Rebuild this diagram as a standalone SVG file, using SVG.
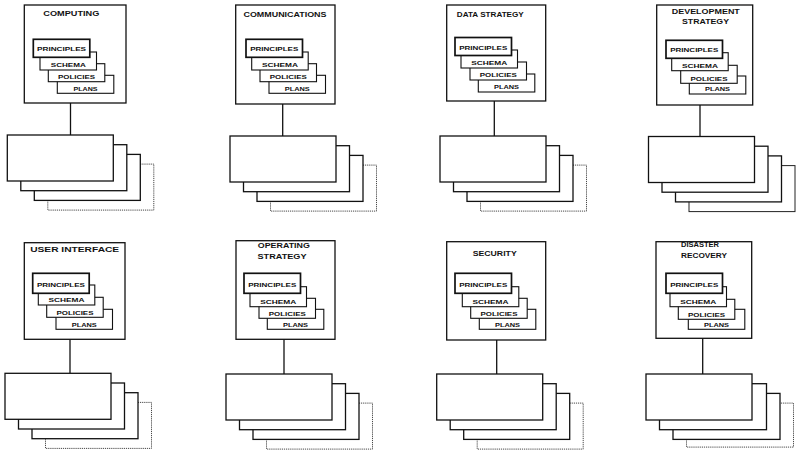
<svg xmlns="http://www.w3.org/2000/svg" width="797" height="450" viewBox="0 0 797 450">
<style>
.bg{fill:#fff}
.box{fill:#fff;stroke:#111;stroke-width:1.3}
.card{fill:#fff;stroke:#111;stroke-width:1.1}
.card1{fill:#fff;stroke:#111;stroke-width:1.7}
.sb{fill:#fff;stroke:#111;stroke-width:1.3}
.dot{fill:#fff;stroke:#333;stroke-width:0.9;stroke-dasharray:1.2 0.9}
.thin{fill:#fff;stroke:#222;stroke-width:1}
.ttl{font-family:"Liberation Sans",Arial,sans-serif;font-weight:bold;font-size:7.5px;text-anchor:middle;fill:#111}
.ct{font-family:"Liberation Sans",Arial,sans-serif;font-weight:bold;font-size:5px;text-anchor:middle;fill:#111}
.conn{stroke:#111;stroke-width:1.3;fill:none}
</style>
<rect class="bg" x="0" y="0" width="797" height="450"/>

<g id="connectors">
<line class="conn" x1="70.5" y1="103" x2="70.5" y2="135"/>
<line class="conn" x1="282.7" y1="104" x2="282.7" y2="136"/>
<line class="conn" x1="494.3" y1="101" x2="494.3" y2="136"/>
<line class="conn" x1="700" y1="105" x2="700" y2="136.5"/>
<line class="conn" x1="70" y1="339.3" x2="70" y2="373.3"/>
<line class="conn" x1="284" y1="339.3" x2="284" y2="374"/>
<line class="conn" x1="496.7" y1="340" x2="496.7" y2="374"/>
<line class="conn" x1="702.7" y1="338.3" x2="702.7" y2="374"/>
</g>

<!-- Row 1 -->
<g id="computing">
<rect class="box" x="24.3" y="5" width="101.7" height="98"/>
<text class="ttl" x="71.3" y="16" textLength="56" lengthAdjust="spacingAndGlyphs">COMPUTING</text>
<rect class="card" x="57.3" y="75.3" width="56.5" height="18"/>
<text class="ct" x="85.55" y="90.5" textLength="24" lengthAdjust="spacingAndGlyphs">PLANS</text>
<rect class="card" x="48.3" y="63.7" width="56.5" height="18"/>
<text class="ct" x="76.55" y="78.9" textLength="37" lengthAdjust="spacingAndGlyphs">POLICIES</text>
<rect class="card" x="40" y="52" width="56.5" height="18"/>
<text class="ct" x="68.25" y="67" textLength="35" lengthAdjust="spacingAndGlyphs">SCHEMA</text>
<rect class="card1" x="33.3" y="39.3" width="56.5" height="18"/>
<text class="ct" x="61.55" y="51.3" textLength="49" lengthAdjust="spacingAndGlyphs">PRINCIPLES</text>
</g>
<g id="computing-stack">
<rect class="dot" x="47.8" y="164.1" width="106" height="46"/>
<rect class="sb" x="34.3" y="154.4" width="106" height="46"/>
<rect class="sb" x="20.8" y="144.7" width="106" height="46"/>
<rect class="sb" x="7.3" y="135" width="106" height="46"/>
</g>

<g id="communications">
<rect class="box" x="235.7" y="5" width="99.3" height="99"/>
<text class="ttl" x="285" y="17" textLength="83" lengthAdjust="spacingAndGlyphs">COMMUNICATIONS</text>
<rect class="card" x="269" y="75.3" width="56.5" height="18"/>
<text class="ct" x="297.25" y="90.5" textLength="25" lengthAdjust="spacingAndGlyphs">PLANS</text>
<rect class="card" x="260" y="63.7" width="56.5" height="18"/>
<text class="ct" x="288.25" y="78.9" textLength="37" lengthAdjust="spacingAndGlyphs">POLICIES</text>
<rect class="card" x="251.7" y="52" width="56.5" height="18"/>
<text class="ct" x="279.95" y="67" textLength="36" lengthAdjust="spacingAndGlyphs">SCHEMA</text>
<rect class="card1" x="246" y="39.3" width="56.5" height="18"/>
<text class="ct" x="274.25" y="51.3" textLength="48" lengthAdjust="spacingAndGlyphs">PRINCIPLES</text>
</g>
<g id="communications-stack">
<rect class="dot" x="270.5" y="165.1" width="106" height="46"/>
<rect class="sb" x="257" y="155.4" width="106" height="46"/>
<rect class="sb" x="243.5" y="145.7" width="106" height="46"/>
<rect class="sb" x="230" y="136" width="106" height="46"/>
</g>

<g id="data-strategy">
<rect class="box" x="446.7" y="5" width="99" height="96"/>
<text class="ttl" x="490.3" y="17" textLength="67" lengthAdjust="spacingAndGlyphs">DATA STRATEGY</text>
<rect class="card" x="478.3" y="74" width="56.5" height="18"/>
<text class="ct" x="506.55" y="89" textLength="25" lengthAdjust="spacingAndGlyphs">PLANS</text>
<rect class="card" x="470" y="62" width="56.5" height="18"/>
<text class="ct" x="498.25" y="77" textLength="37" lengthAdjust="spacingAndGlyphs">POLICIES</text>
<rect class="card" x="461" y="50" width="56.5" height="18"/>
<text class="ct" x="489.25" y="65" textLength="36" lengthAdjust="spacingAndGlyphs">SCHEMA</text>
<rect class="card1" x="455" y="37.5" width="56.5" height="18"/>
<text class="ct" x="483.25" y="49.5" textLength="48" lengthAdjust="spacingAndGlyphs">PRINCIPLES</text>
</g>
<g id="data-strategy-stack">
<rect class="dot" x="480.5" y="165.1" width="106" height="46"/>
<rect class="sb" x="467" y="155.4" width="106" height="46"/>
<rect class="sb" x="453.5" y="145.7" width="106" height="46"/>
<rect class="sb" x="440" y="136" width="106" height="46"/>
</g>

<g id="development-strategy">
<rect class="box" x="656.7" y="5" width="96" height="100"/>
<text class="ttl" x="705.8" y="14" textLength="68" lengthAdjust="spacingAndGlyphs">DEVELOPMENT</text>
<text class="ttl" x="705.5" y="24" textLength="47" lengthAdjust="spacingAndGlyphs">STRATEGY</text>
<rect class="card" x="689.3" y="76" width="56.5" height="18"/>
<text class="ct" x="717.55" y="91.2" textLength="25" lengthAdjust="spacingAndGlyphs">PLANS</text>
<rect class="card" x="680.7" y="65.3" width="56.5" height="18"/>
<text class="ct" x="708.95" y="80.5" textLength="37" lengthAdjust="spacingAndGlyphs">POLICIES</text>
<rect class="card" x="671.7" y="52.7" width="56.5" height="18"/>
<text class="ct" x="699.95" y="67.9" textLength="36" lengthAdjust="spacingAndGlyphs">SCHEMA</text>
<rect class="card1" x="666" y="40.3" width="56.5" height="18"/>
<text class="ct" x="694.25" y="52.3" textLength="48" lengthAdjust="spacingAndGlyphs">PRINCIPLES</text>
</g>
<g id="development-strategy-stack">
<rect class="thin" x="689" y="165.6" width="106" height="46"/>
<rect class="sb" x="675.5" y="155.9" width="106" height="46"/>
<rect class="sb" x="662" y="146.2" width="106" height="46"/>
<rect class="sb" x="648.5" y="136.5" width="106" height="46"/>
</g>

<!-- Row 2 -->
<g id="user-interface">
<rect class="box" x="24.3" y="242.7" width="100.7" height="96.6"/>
<text class="ttl" x="74.7" y="251.7" textLength="89" lengthAdjust="spacingAndGlyphs">USER INTERFACE</text>
<rect class="card" x="56" y="309.3" width="56.5" height="20"/>
<text class="ct" x="84.25" y="326.5" textLength="25" lengthAdjust="spacingAndGlyphs">PLANS</text>
<rect class="card" x="46.7" y="297.3" width="56.5" height="20"/>
<text class="ct" x="74.95" y="314.5" textLength="37" lengthAdjust="spacingAndGlyphs">POLICIES</text>
<rect class="card" x="38.3" y="285" width="56.5" height="20"/>
<text class="ct" x="66.55" y="302.2" textLength="36" lengthAdjust="spacingAndGlyphs">SCHEMA</text>
<rect class="card1" x="32.7" y="273.3" width="56.5" height="20"/>
<text class="ct" x="60.95" y="287" textLength="48" lengthAdjust="spacingAndGlyphs">PRINCIPLES</text>
</g>
<g id="user-interface-stack">
<rect class="dot" x="45.5" y="402.4" width="106" height="46"/>
<rect class="sb" x="32" y="392.7" width="106" height="46"/>
<rect class="sb" x="18.5" y="383" width="106" height="46"/>
<rect class="sb" x="5" y="373.3" width="106" height="46"/>
</g>

<g id="operating-strategy">
<rect class="box" x="236" y="240.7" width="99" height="98.6"/>
<text class="ttl" x="283.8" y="248.3" textLength="52" lengthAdjust="spacingAndGlyphs">OPERATING</text>
<text class="ttl" x="282" y="259.3" textLength="49" lengthAdjust="spacingAndGlyphs">STRATEGY</text>
<rect class="card" x="267.3" y="309.3" width="56.5" height="20"/>
<text class="ct" x="295.55" y="326.5" textLength="25" lengthAdjust="spacingAndGlyphs">PLANS</text>
<rect class="card" x="259" y="298.3" width="56.5" height="20"/>
<text class="ct" x="287.25" y="315.5" textLength="37" lengthAdjust="spacingAndGlyphs">POLICIES</text>
<rect class="card" x="250" y="286.7" width="56.5" height="20"/>
<text class="ct" x="278.25" y="303.9" textLength="36" lengthAdjust="spacingAndGlyphs">SCHEMA</text>
<rect class="card1" x="244" y="273.3" width="56.5" height="20"/>
<text class="ct" x="272.25" y="287" textLength="48" lengthAdjust="spacingAndGlyphs">PRINCIPLES</text>
</g>
<g id="operating-strategy-stack">
<rect class="dot" x="266.5" y="403.1" width="106" height="46"/>
<rect class="sb" x="253" y="393.4" width="106" height="46"/>
<rect class="sb" x="239.5" y="383.7" width="106" height="46"/>
<rect class="sb" x="226" y="374" width="106" height="46"/>
</g>

<g id="security">
<rect class="box" x="446.7" y="241.7" width="99" height="98.3"/>
<text class="ttl" x="494.7" y="256" textLength="44" lengthAdjust="spacingAndGlyphs">SECURITY</text>
<rect class="card" x="479.3" y="309.3" width="56.5" height="20"/>
<text class="ct" x="507.55" y="326.5" textLength="25" lengthAdjust="spacingAndGlyphs">PLANS</text>
<rect class="card" x="470.7" y="298.3" width="56.5" height="20"/>
<text class="ct" x="498.95" y="315.5" textLength="37" lengthAdjust="spacingAndGlyphs">POLICIES</text>
<rect class="card" x="462.3" y="286.7" width="56.5" height="20"/>
<text class="ct" x="490.55" y="303.9" textLength="36" lengthAdjust="spacingAndGlyphs">SCHEMA</text>
<rect class="card1" x="455" y="273.3" width="56.5" height="20"/>
<text class="ct" x="483.25" y="287" textLength="48" lengthAdjust="spacingAndGlyphs">PRINCIPLES</text>
</g>
<g id="security-stack">
<rect class="dot" x="477.2" y="403.1" width="106" height="46"/>
<rect class="sb" x="463.7" y="393.4" width="106" height="46"/>
<rect class="sb" x="450.2" y="383.7" width="106" height="46"/>
<rect class="sb" x="436.7" y="374" width="106" height="46"/>
</g>

<g id="disaster-recovery">
<rect class="box" x="656" y="241.7" width="95.7" height="96.6"/>
<text class="ttl" x="700" y="247.3" textLength="38" lengthAdjust="spacingAndGlyphs">DISASTER</text>
<text class="ttl" x="704" y="258.3" textLength="46" lengthAdjust="spacingAndGlyphs">RECOVERY</text>
<rect class="card" x="688.3" y="309.3" width="56.5" height="20"/>
<text class="ct" x="716.55" y="326.5" textLength="25" lengthAdjust="spacingAndGlyphs">PLANS</text>
<rect class="card" x="678.3" y="299.3" width="56.5" height="20"/>
<text class="ct" x="706.55" y="316.5" textLength="37" lengthAdjust="spacingAndGlyphs">POLICIES</text>
<rect class="card" x="670" y="286.7" width="56.5" height="20"/>
<text class="ct" x="698.25" y="303.9" textLength="36" lengthAdjust="spacingAndGlyphs">SCHEMA</text>
<rect class="card1" x="666" y="273.3" width="56.5" height="20"/>
<text class="ct" x="694.25" y="287" textLength="48" lengthAdjust="spacingAndGlyphs">PRINCIPLES</text>
</g>
<g id="disaster-recovery-stack">
<rect class="dot" x="686.5" y="403.1" width="107" height="44"/>
<rect class="sb" x="673" y="393.4" width="107" height="46"/>
<rect class="sb" x="659.5" y="383.7" width="107" height="46"/>
<rect class="sb" x="646" y="374" width="106" height="46"/>
</g>
</svg>
